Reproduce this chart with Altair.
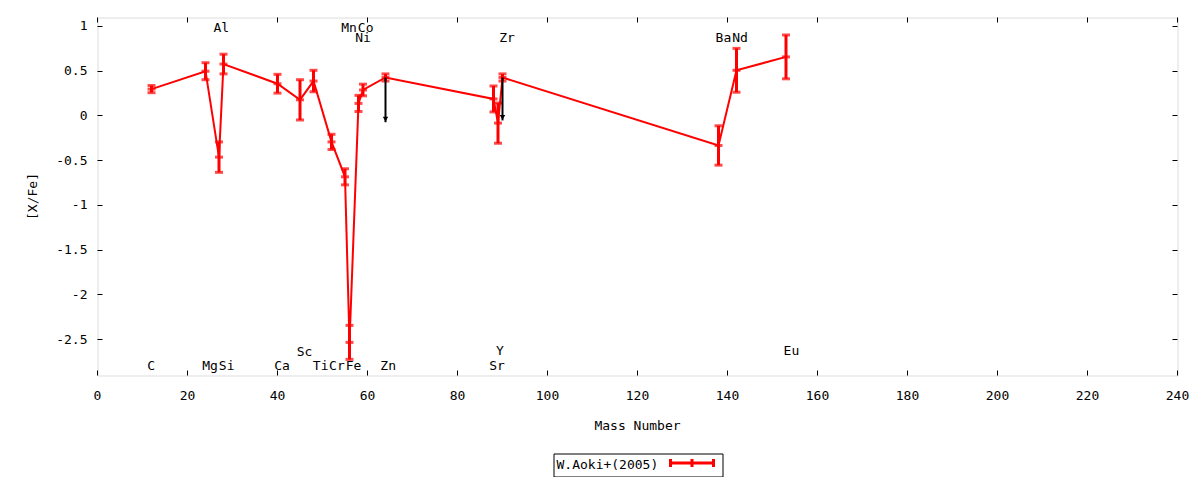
import altair as alt
import pandas as pd

FONT = "DejaVu Sans Mono"
RED = "#ff0000"

# ---- data ----
elements = ["C", "Mg", "Al", "Si", "Ca", "Sc", "Ti", "Cr", "Mn", "Fe",
            "Ni", "Co", "Zn", "Sr", "Y", "Zr", "Ba", "Nd", "Eu"]
mass = [12, 24, 27, 28, 40, 45, 48, 52, 55, 56, 58, 59, 64, 88, 89, 90, 138, 142, 153]
xfe = [0.30, 0.50, -0.46, 0.58, 0.36, 0.18, 0.39, -0.29, -0.68, -2.53,
       0.14, 0.29, 0.43, 0.19, -0.08, 0.43, -0.33, 0.51, 0.66]
err = [0.04, 0.095, 0.17, 0.11, 0.105, 0.225, 0.12, 0.085, 0.09, 0.19,
       0.09, 0.065, 0.04, 0.145, 0.225, 0.04, 0.22, 0.245, 0.245]

# upper limits (arrows)
lim_el = ["Zn", "Zr"]
lim_mass = [64, 90]
lim_top = [0.43, 0.43]
lim_end = [-0.07, -0.05]

# element name annotations
lab_text = ["Al", "Mn", "Co", "Ni", "Zr", "Ba", "Nd",
            "C", "Mg", "Si", "Ca", "Sc", "Ti", "Cr", "Fe", "Zn", "Y", "Sr", "Eu"]
lab_x = [27.5, 55.9, 59.6, 59.0, 91.0, 139.1, 142.8,
         11.9, 25.0, 28.7, 41.0, 46.0, 49.6, 53.2, 56.9, 64.6, 89.4, 88.8, 154.2]
lab_y = [0.98, 0.98, 0.98, 0.87, 0.87, 0.87, 0.87,
         -2.79, -2.79, -2.79, -2.79, -2.64, -2.79, -2.79, -2.79, -2.79, -2.63, -2.79, -2.63]

x_ticks = list(range(0, 241, 20))
y_ticks = [-2.5, -2, -1.5, -1, -0.5, 0, 0.5, 1]
series_name = "W.Aoki+(2005)"

df = pd.DataFrame({"el": elements, "mass": mass, "v": xfe, "e": err})
df["lo"] = df["v"] - df["e"]
df["hi"] = df["v"] + df["e"]
df["series"] = series_name

lim_df = pd.DataFrame({"el": lim_el, "mass": lim_mass, "top": lim_top, "end": lim_end})
lab_df = pd.DataFrame({"t": lab_text, "x": lab_x, "y": lab_y})

xs = alt.Scale(domain=[0, 240], nice=False, zero=False)
ys = alt.Scale(domain=[-2.9, 1.1], nice=False, zero=False)

common_axis = dict(domain=False, grid=False, offset=-5, tickSize=5, tickColor="black",
                   tickWidth=1, translate=0, labelFont=FONT, labelFontSize=13,
                   labelColor="black", titleFont=FONT, titleFontSize=13,
                   titleFontWeight="normal", titleColor="black")

x_bottom = alt.Axis(orient="bottom", values=x_ticks, labelPadding=14, title="Mass Number",
                    titlePadding=17, labelFlush=False, **common_axis)
y_left = alt.Axis(orient="left", values=y_ticks, labelPadding=10, title="[X/Fe]",
                  titlePadding=16, labelExpr="datum.value + ''", **common_axis)
x_top = alt.Axis(orient="top", values=x_ticks, labels=False, title=None, **common_axis)
y_right = alt.Axis(orient="right", values=y_ticks, labels=False, title=None, **common_axis)

legend_symbol = "M-4.3,0H4.3M-4.3,-0.8V0.8M4.3,-0.8V0.8M0,-0.8V0.8"

line = alt.Chart(df).mark_line(color=RED, strokeWidth=2).encode(
    x=alt.X("mass:Q", scale=xs, axis=x_bottom),
    y=alt.Y("v:Q", scale=ys, axis=y_left),
    color=alt.Color("series:N", scale=alt.Scale(domain=[series_name], range=[RED]),
                    legend=alt.Legend(orient="none", legendX=456, legendY=436,
                                      title=series_name, titleOrient="left",
                                      titleFont=FONT, titleFontSize=13,
                                      titleFontWeight="normal", titleColor="black",
                                      titlePadding=27, labelExpr="''",
                                      symbolType=legend_symbol, symbolSize=100,
                                      symbolStrokeWidth=3, symbolStrokeColor=RED,
                                      strokeColor="black", padding=3)),
)

bars = alt.Chart(df).mark_rule(color=RED, strokeWidth=3).encode(
    x=alt.X("mass:Q", scale=xs, axis=x_top),
    y=alt.Y("lo:Q", scale=ys, axis=y_right),
    y2="hi:Q",
)

cap_lo = alt.Chart(df).mark_tick(color=RED, orient="horizontal", size=8, thickness=3).encode(
    x=alt.X("mass:Q", scale=xs, axis=None),
    y=alt.Y("lo:Q", scale=ys, axis=None),
)
cap_hi = alt.Chart(df).mark_tick(color=RED, orient="horizontal", size=8, thickness=3).encode(
    x=alt.X("mass:Q", scale=xs, axis=None),
    y=alt.Y("hi:Q", scale=ys, axis=None),
)
cap_mid = alt.Chart(df).mark_tick(color=RED, orient="horizontal", size=8, thickness=3).encode(
    x=alt.X("mass:Q", scale=xs, axis=None),
    y=alt.Y("v:Q", scale=ys, axis=None),
)

arrows = alt.Chart(lim_df).mark_rule(color="black", strokeWidth=2).encode(
    x=alt.X("mass:Q", scale=xs, axis=None),
    y=alt.Y("top:Q", scale=ys, axis=None),
    y2="end:Q",
)
heads = alt.Chart(lim_df).mark_point(shape="triangle-down", filled=True, color="black",
                                     size=30, opacity=1, yOffset=-3).encode(
    x=alt.X("mass:Q", scale=xs, axis=None),
    y=alt.Y("end:Q", scale=ys, axis=None),
)

labels = alt.Chart(lab_df).mark_text(font=FONT, fontSize=13, color="black",
                                     align="center", baseline="middle").encode(
    x=alt.X("x:Q", scale=xs, axis=None),
    y=alt.Y("y:Q", scale=ys, axis=None),
    text="t:N",
)

chart = alt.layer(line, bars, cap_lo, cap_hi, cap_mid, arrows, heads, labels).resolve_axis(
    x="independent", y="independent"
).properties(
    width=1080, height=358,
    autosize=alt.AutoSizeParams(type="none"),
    padding={"left": 89.5, "top": 9.5, "right": 13, "bottom": 101},
).configure_view(stroke="black", strokeWidth=1).configure(background="white")

chart.save("out.html", embed_options={"renderer": "svg", "actions": False})
